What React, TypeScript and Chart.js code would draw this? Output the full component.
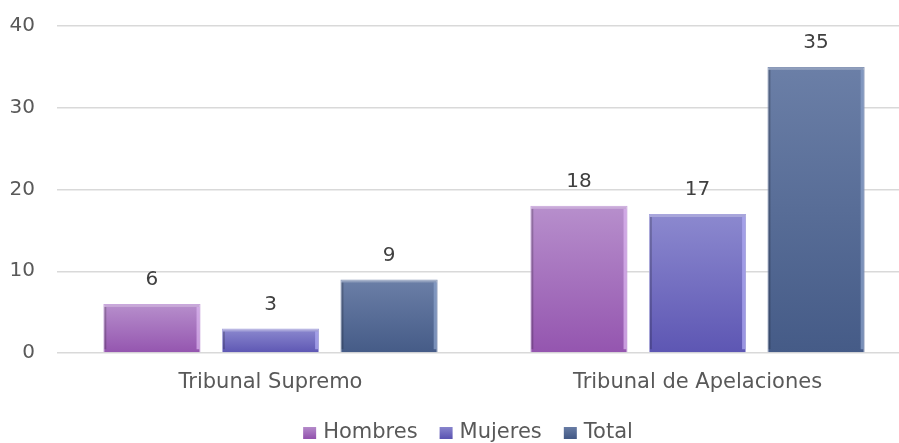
import React, { useEffect, useRef } from "react";
import { Chart, registerables } from "chart.js";

Chart.register(...registerables);

const categories = ["Tribunal Supremo", "Tribunal de Apelaciones"];
const seriesNames = ["Hombres", "Mujeres", "Total"];
const hombres = [6, 18];
const mujeres = [3, 17];
const total = [9, 35];
const yTickMin = 0;
const yTickMax = 40;
const yTickStep = 10;

const palette = [
  { top: "#b78fcc", bottom: "#9455af", mid: "#a36dbd", edge: "#d9b3ee", border: "#c9a6dc" },
  { top: "#8c89cf", bottom: "#5d56b3", mid: "#7570c2", edge: "#aeaaf0", border: "#a9a6dd" },
  { top: "#6b7fa7", bottom: "#455b87", mid: "#566b95", edge: "#8aa0c8", border: "#8796b6" },
];

const FONT = "'DejaVu Sans', sans-serif";

function makeBg(idx: number) {
  return (ctx: any) => {
    const p = palette[idx];
    const chart = ctx.chart;
    if (!chart.chartArea || !ctx.parsed || ctx.type !== "data") return p.mid;
    const ys = chart.scales.y;
    const yTop = ys.getPixelForValue(ctx.parsed.y);
    const yBase = ys.getPixelForValue(0);
    const g = chart.ctx.createLinearGradient(0, yTop, 0, yBase);
    g.addColorStop(0, p.top);
    g.addColorStop(1, p.bottom);
    return g;
  };
}

const bevelPlugin = {
  id: "bevel",
  afterDatasetsDraw(chart: any) {
    const c = chart.ctx;
    chart.data.datasets.forEach((ds: any, di: number) => {
      const meta = chart.getDatasetMeta(di);
      const p = palette[di];
      meta.data.forEach((el: any) => {
        const { x, y, base, width } = el.getProps(["x", "y", "base", "width"], true);
        const left = x - width / 2;
        const right = x + width / 2;
        const h = base - y;
        c.save();
        c.globalAlpha = 0.75;
        c.fillStyle = p.edge;
        c.fillRect(right - 4, y + 3, 3, h - 6);
        c.globalAlpha = 0.2;
        c.fillStyle = "#000000";
        c.fillRect(left + 1, y + 3, 2, h - 6);
        c.globalAlpha = 0.25;
        c.fillStyle = "#ffffff";
        c.fillRect(left + 1, y + 1, width - 2, 2);
        c.restore();
      });
    });
  },
};

const valueLabelPlugin = {
  id: "valueLabels",
  afterDatasetsDraw(chart: any) {
    const c = chart.ctx;
    c.save();
    c.font = `20px ${FONT}`;
    c.fillStyle = "#404040";
    c.textAlign = "center";
    c.textBaseline = "middle";
    chart.data.datasets.forEach((ds: any, di: number) => {
      const meta = chart.getDatasetMeta(di);
      meta.data.forEach((el: any, i: number) => {
        c.fillText(String(ds.data[i]), el.x, el.y - 24);
      });
    });
    c.restore();
  },
};

const legendPlugin = {
  id: "customLegend",
  afterDraw(chart: any) {
    const c = chart.ctx;
    c.save();
    c.font = `21px ${FONT}`;
    c.textBaseline = "middle";
    c.textAlign = "left";
    const box = 13;
    const gapText = 7;
    const gapItem = 22;
    const widths = seriesNames.map((n) => c.measureText(n).width);
    const totalW = widths.reduce((a, w) => a + box + gapText + w, 0) + gapItem * (seriesNames.length - 1);
    let x = 468 - totalW / 2;
    const yc = 432;
    seriesNames.forEach((n, i) => {
      const p = palette[i];
      const g = c.createLinearGradient(0, yc - 6, 0, yc + 6);
      g.addColorStop(0, p.top);
      g.addColorStop(1, p.bottom);
      c.fillStyle = g;
      c.fillRect(x, yc - 5, box, 12);
      x += box + gapText;
      c.fillStyle = "#595959";
      c.fillText(n, x, yc + 1);
      x += widths[i] + gapItem;
    });
    c.restore();
  },
};

export default function App() {
  const ref = useRef<HTMLCanvasElement>(null);
  useEffect(() => {
    if (!ref.current) return;
    const series = [hombres, mujeres, total];
    const chart = new Chart(ref.current, {
      type: "bar",
      data: {
        labels: categories,
        datasets: series.map((d, i) => ({
          label: seriesNames[i],
          data: d,
          backgroundColor: makeBg(i),
          borderColor: palette[i].border,
          borderWidth: 1,
          barPercentage: 0.82,
          categoryPercentage: 0.833,
        })),
      },
      options: {
        responsive: false,
        animation: false,
        layout: { padding: { left: 10, right: 9, top: 26, bottom: 24 } },
        plugins: {
          tooltip: { enabled: false },
          legend: { display: false },
        },
        scales: {
          x: {
            grid: { display: false },
            border: { display: false },
            ticks: { font: { family: FONT, size: 21 }, color: "#595959", padding: 9 },
            afterFit: (s: any) => {
              s.height = 66;
              s.paddingLeft = 0;
              s.paddingRight = 0;
            },
          },
          y: {
            min: yTickMin,
            max: yTickMax,
            ticks: { stepSize: yTickStep, font: { family: FONT, size: 20 }, color: "#595959", padding: 22 },
            grid: { color: "#d9d9d9", lineWidth: 1.5, drawTicks: false },
            border: { display: false },
            afterFit: (s: any) => {
              s.width = 47;
              s.paddingTop = 0;
              s.paddingBottom = 0;
            },
          },
        },
      },
      plugins: [bevelPlugin, valueLabelPlugin, legendPlugin],
    });
    return () => chart.destroy();
  }, []);
  return (
    <div style={{ position: "fixed", left: 0, top: 0, width: 899, height: 443, overflow: "hidden", background: "#fff" }}>
      <canvas ref={ref} width={920} height={443} style={{ display: "block" }} />
    </div>
  );
}
